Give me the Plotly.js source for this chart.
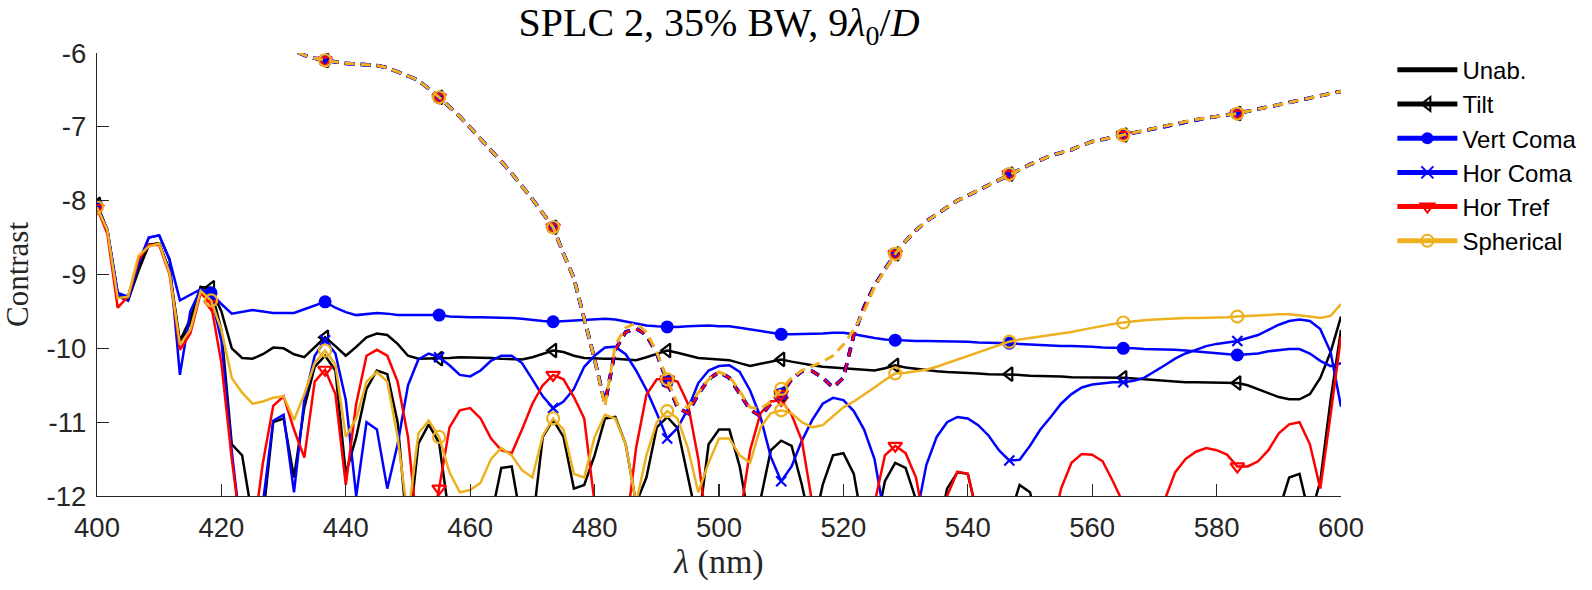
<!DOCTYPE html>
<html>
<head>
<meta charset="utf-8">
<script src="https://cdn.plot.ly/plotly-3.0.1.min.js"></script>
<style>
  html, body { margin: 0; padding: 0; background: #ffffff; }
  #chart { width: 1592px; height: 590px; }
</style>
</head>
<body>
<div id="chart"></div>
<script>
// Wavelength samples (nm)
const wavelength = [
  400, 401.67, 403.33, 405, 406.67, 408.33, 410, 411.67, 413.33, 415, 416.67,
  418.33, 420, 421.67, 423.33, 425, 426.67, 428.33, 430, 431.67, 433.33, 435,
  436.67, 438.33, 440, 441.67, 443.33, 445, 446.67, 448.33, 450, 451.67, 453.33,
  455, 456.67, 458.33, 460, 461.67, 463.33, 465, 466.67, 468.33, 470, 471.67,
  473.33, 475, 476.67, 478.33, 480, 481.67, 483.33, 485, 486.67, 488.33, 490,
  491.67, 493.33, 495, 496.67, 498.33, 500, 501.67, 503.33, 505, 506.67, 508.33,
  510, 511.67, 513.33, 515, 516.67, 518.33, 520, 521.67, 523.33, 525, 526.67,
  528.33, 530, 531.67, 533.33, 535, 536.67, 538.33, 540, 541.67, 543.33, 545,
  546.67, 548.33, 550, 551.67, 553.33, 555, 556.67, 558.33, 560, 561.67, 563.33,
  565, 566.67, 568.33, 570, 571.67, 573.33, 575, 576.67, 578.33, 580, 581.67,
  583.33, 585, 586.67, 588.33, 590, 591.67, 593.33, 595, 596.67, 598.33, 600
];

// log10 contrast, solid curves
const unab = [
  -8.05, -8.4, -9.3, -9.3, -8.9, -8.6, -8.58, -8.95, -9.9, -9.6, -9.17,
  -9.2, -9.75, -11.3, -11.45, -12.3, -12.3, -11.0, -10.95, -11.75, -10.8, -10.25,
  -10.1, -10.3, -11.7, -11.2, -10.55, -10.3, -10.35, -11.0, -12.6, -11.29, -11.03,
  -11.28, -12.3, -12.8, -12.8, -12.8, -12.3, -11.62, -11.6, -12.4, -12.4, -11.2,
  -10.97, -11.2, -11.9, -11.85, -11.45, -10.95, -10.93, -11.3, -12.1, -11.75, -11.07,
  -10.93, -11.08, -11.75, -12.4, -11.3, -11.1, -11.1, -11.6, -12.4, -12.05, -11.38,
  -11.25, -11.32, -11.85, -12.5, -11.85, -11.45, -11.42, -11.7, -12.5, -12.5, -11.8,
  -11.55, -11.62, -12.05, -12.6, -12.6, -11.9, -11.68, -11.7, -12.3, -12.8, -12.8,
  -12.3, -11.85, -11.95, -12.5, -13, -13, -13, -13, -13, -13, -13,
  -13, -13, -13, -13, -13, -13, -13, -13, -13, -13, -13,
  -13, -13, -13, -12.8, -12.2, -11.75, -11.7, -12.3, -11.8, -10.7, -9.75
];
const tilt = [
  -8.05, -8.4, -9.3, -9.35, -8.95, -8.6, -8.58, -8.95, -9.95, -9.65, -9.17,
  -9.18, -9.5, -10.0, -10.13, -10.14, -10.08, -9.99, -10.0, -10.08, -10.12, -9.98,
  -9.85, -9.97, -10.1, -9.98, -9.85, -9.8, -9.82, -9.94, -10.1, -10.14, -10.14,
  -10.14, -10.13, -10.12, -10.12, -10.12, -10.13, -10.14, -10.14, -10.15, -10.12, -10.07,
  -10.03, -10.05, -10.1, -10.13, -10.14, -10.14, -10.14, -10.15, -10.16, -10.12, -10.07,
  -10.03, -10.06, -10.1, -10.13, -10.14, -10.15, -10.16, -10.2, -10.24, -10.21, -10.18,
  -10.15, -10.18, -10.21, -10.23, -10.25, -10.26, -10.27, -10.29, -10.3, -10.3, -10.27,
  -10.23, -10.26, -10.28, -10.3, -10.31, -10.32, -10.33, -10.34, -10.34, -10.35, -10.35,
  -10.35, -10.36, -10.37, -10.37, -10.38, -10.38, -10.39, -10.39, -10.4, -10.4, -10.4,
  -10.4, -10.41, -10.42, -10.44, -10.45, -10.46, -10.46, -10.46, -10.46, -10.46, -10.46,
  -10.47, -10.5, -10.55, -10.6, -10.66, -10.69, -10.69, -10.62, -10.4, -10.05, -9.57
];
const vertComa = [
  -8.08, -8.4, -9.25, -9.3, -8.85, -8.5, -8.47, -8.8, -9.35, -9.28, -9.2,
  -9.25, -9.4, -9.53, -9.5, -9.48, -9.5, -9.52, -9.52, -9.52, -9.47, -9.42,
  -9.37, -9.45, -9.51, -9.55, -9.53, -9.52, -9.53, -9.55, -9.55, -9.55, -9.55,
  -9.55, -9.57, -9.58, -9.58, -9.58, -9.58, -9.58, -9.59, -9.6, -9.62, -9.63,
  -9.64, -9.63, -9.62, -9.61, -9.6, -9.6, -9.61, -9.64, -9.67, -9.69, -9.7,
  -9.71, -9.71, -9.7, -9.69, -9.69, -9.7, -9.7, -9.72, -9.74, -9.76, -9.79,
  -9.81, -9.81, -9.81, -9.81, -9.8, -9.79, -9.79, -9.81, -9.84, -9.86, -9.88,
  -9.89, -9.89, -9.9, -9.9, -9.9, -9.9, -9.91, -9.91, -9.92, -9.92, -9.93,
  -9.93, -9.94, -9.95, -9.95, -9.96, -9.97, -9.97, -9.98, -9.98, -9.99, -9.99,
  -10.0, -10.0, -10.01, -10.01, -10.02, -10.02, -10.03, -10.04, -10.05, -10.06, -10.07,
  -10.09, -10.08, -10.07, -10.04, -10.02, -10.01, -10.01, -10.07, -10.17, -10.24, -10.2
];
const horComa = [
  -8.08, -8.4, -9.25, -9.35, -8.85, -8.5, -8.47, -8.8, -10.36, -9.5, -9.2,
  -9.28, -9.9, -11.4, -12.6, -12.6, -12.1, -10.98, -10.9, -11.95, -10.7, -10.1,
  -9.89, -10.07, -10.7, -12.0, -11.0, -11.1, -11.9, -11.3, -10.5, -10.15, -10.07,
  -10.12, -10.23, -10.36, -10.38, -10.3, -10.17, -10.1, -10.1, -10.2, -10.42, -10.65,
  -10.81, -10.72, -10.55, -10.25, -10.1, -9.99, -9.98, -10.08, -10.3, -10.56, -10.88,
  -11.22, -11.08, -10.82, -10.47, -10.3, -10.24, -10.23, -10.32, -10.57, -10.93, -11.47,
  -11.8, -11.6, -11.25, -10.97, -10.75, -10.67, -10.7, -10.85, -11.1, -11.5, -12.3,
  -12.8, -12.8, -12.3, -11.58, -11.2, -11.0, -10.93, -10.95, -11.04, -11.18, -11.38,
  -11.52, -11.51, -11.32, -11.1, -10.93, -10.75, -10.62, -10.53, -10.49, -10.47, -10.46,
  -10.46, -10.44, -10.4, -10.32, -10.23, -10.14, -10.07, -10.02, -9.97, -9.94, -9.92,
  -9.9, -9.86, -9.82, -9.75, -9.68, -9.63, -9.61, -9.63, -9.74, -10.05, -10.79
];
const horTref = [
  -8.1, -8.45, -9.45, -9.3, -8.8, -8.6, -8.6, -9.0, -10.02, -9.8, -9.25,
  -9.4, -10.2, -11.5, -12.6, -12.6, -11.55, -10.78, -10.65, -11.1, -11.48, -10.45,
  -10.29, -10.62, -11.85, -10.75, -10.1, -10.02, -10.1, -10.45, -11.2, -12.6, -12.6,
  -11.9, -11.07, -10.84, -10.81, -10.95, -11.22, -11.38, -11.42, -11.1, -10.75, -10.5,
  -10.36, -10.42, -10.66, -10.95, -12.1, -12.8, -12.8, -12.5, -11.35, -10.63, -10.42,
  -10.42, -10.45, -10.75, -11.5, -12.6, -12.8, -12.8, -12.3, -11.38, -10.88, -10.72,
  -10.7, -10.9, -11.25, -12.1, -12.8, -12.8, -12.8, -12.8, -12.8, -12.1, -11.45,
  -11.32, -11.42, -11.75, -12.5, -12.5, -12.0, -11.67, -11.7, -12.3, -12.8, -12.8,
  -12.8, -12.8, -12.8, -12.8, -12.5, -11.9, -11.55, -11.43, -11.44, -11.53, -11.8,
  -12.1, -12.8, -12.8, -12.8, -12.05, -11.68, -11.5, -11.4, -11.35, -11.38, -11.44,
  -11.6, -11.6, -11.53, -11.38, -11.15, -11.03, -11.0, -11.3, -11.9, -10.9, -9.84
];
const spherical = [
  -8.09, -8.4, -9.32, -9.3, -8.75, -8.62, -8.58, -8.98, -9.95, -9.75, -9.22,
  -9.35, -9.75, -10.4, -10.6, -10.75, -10.72, -10.67, -10.65, -10.97, -10.62, -10.2,
  -10.03, -10.22, -11.2, -10.95, -10.45, -10.32, -10.45, -11.2, -12.3, -11.15, -10.98,
  -11.2, -11.68, -11.95, -11.92, -11.82, -11.5, -11.35, -11.45, -11.65, -11.75, -11.18,
  -10.95, -11.1, -11.7, -11.75, -11.2, -10.9, -10.95, -11.3, -12.1, -11.45, -11.0,
  -10.85, -10.95, -11.35, -11.95, -11.55, -11.22, -11.22, -11.45, -11.55, -11.07, -10.88,
  -10.84, -10.88, -11.0, -11.07, -11.04, -10.92, -10.8, -10.72, -10.63, -10.53, -10.43,
  -10.34, -10.33, -10.31, -10.29, -10.25, -10.2, -10.15, -10.1, -10.05, -10.0, -9.95,
  -9.91, -9.88, -9.86, -9.84, -9.82, -9.8, -9.78, -9.75, -9.72, -9.69, -9.67,
  -9.65, -9.63, -9.62, -9.61, -9.6, -9.6, -9.59, -9.59, -9.59, -9.58, -9.58,
  -9.57, -9.56, -9.55, -9.54, -9.54, -9.54, -9.55, -9.57, -9.59, -9.56, -9.4
];

// log10 contrast, dashed curves (above the axis top before ~432 nm)
const dashedCommon = [
  null, null, null, null, null, null, null, null, null, null, null,
  null, null, null, null, null, null, null, -5.9, -5.97, -6.03, -6.07,
  -6.1, -6.12, -6.14, -6.15, -6.16, -6.17, -6.2, -6.25, -6.31, -6.37, -6.48,
  -6.6, -6.73, -6.86, -7.01, -7.16, -7.32, -7.47, -7.63, -7.8, -7.98, -8.17,
  -8.36, -8.72, -9.05, -9.6, -10.15, -10.75, -10.02, -9.78, -9.73, -9.82, -10.07,
  -10.45, -10.8, -10.88, -10.62, -10.42, -10.32, -10.4, -10.62, -10.83, -10.92, -10.75,
  -10.62, -10.42, -10.31, -10.31, -10.4, -10.53, -10.4, -9.82, -9.44, -9.15, -8.93,
  -8.72, -8.55, -8.4, -8.28, -8.18, -8.09, -8.0, -7.93, -7.85, -7.78, -7.71,
  -7.64, -7.57, -7.51, -7.45, -7.39, -7.35, -7.31, -7.25, -7.2, -7.17, -7.14,
  -7.11, -7.08, -7.05, -7.02, -6.99, -6.96, -6.93, -6.9, -6.88, -6.86, -6.84,
  -6.82, -6.79, -6.76, -6.73, -6.7, -6.68, -6.65, -6.62, -6.59, -6.56, -6.52
];
const dashedSpherical = [
  null, null, null, null, null, null, null, null, null, null, null,
  null, null, null, null, null, null, null, -5.9, -5.97, -6.03, -6.07,
  -6.1, -6.12, -6.14, -6.15, -6.16, -6.17, -6.2, -6.25, -6.31, -6.37, -6.48,
  -6.6, -6.73, -6.86, -7.01, -7.16, -7.32, -7.47, -7.63, -7.8, -7.98, -8.17,
  -8.36, -8.72, -9.05, -9.6, -10.15, -10.78, -9.95, -9.72, -9.66, -9.78, -10.05,
  -10.42, -10.75, -10.8, -10.6, -10.42, -10.32, -10.38, -10.58, -10.8, -10.82, -10.72,
  -10.55, -10.4, -10.3, -10.24, -10.18, -10.1, -9.95, -9.75, -9.5, -9.17, -8.95,
  -8.72, -8.55, -8.4, -8.28, -8.18, -8.09, -8.0, -7.93, -7.85, -7.78, -7.71,
  -7.64, -7.57, -7.51, -7.45, -7.39, -7.35, -7.31, -7.25, -7.2, -7.17, -7.14,
  -7.11, -7.08, -7.05, -7.02, -6.99, -6.96, -6.93, -6.9, -6.88, -6.86, -6.84,
  -6.82, -6.79, -6.76, -6.73, -6.7, -6.68, -6.65, -6.62, -6.59, -6.56, -6.52
];

const xTicks = [400, 420, 440, 460, 480, 500, 520, 540, 560, 580, 600];
const yTicks = [-12, -11, -10, -9, -8, -7, -6];
const yTickText = ['-12', '-11', '-10', '-9', '-8', '-7', '-6'];

const BLACK = '#000000', BLUE = '#0000ff', RED = '#ff0000', ORANGE = '#edb120';
const MARKER_EVERY = 11;      // a marker on every 11th sample
const SPLIT = 49;             // dashed curves start a new dash run here

const series = [
  { name: 'Unab.',     y: unab,      dashed: dashedCommon,    color: BLACK,  symbol: null,                 size: 0,  dashW: 3.0 },
  { name: 'Tilt',      y: tilt,      dashed: dashedCommon,    color: BLACK,  symbol: 'triangle-left-open', size: 12, dashW: 3.0 },
  { name: 'Vert Coma', y: vertComa,  dashed: dashedCommon,    color: BLUE,   symbol: 'circle',             size: 13, dashW: 3.6 },
  { name: 'Hor Coma',  y: horComa,   dashed: dashedCommon,    color: BLUE,   symbol: 'x-thin-open',        size: 10, dashW: 3.6 },
  { name: 'Hor Tref',  y: horTref,   dashed: dashedCommon,    color: RED,    symbol: 'triangle-down-open', size: 12, dashW: 2.2 },
  { name: 'Spherical', y: spherical, dashed: dashedSpherical, color: ORANGE, symbol: 'circle-open',        size: 12, dashW: 3.0 }
];

function markerFor(s, start, end) {
  const filled = s.symbol === 'circle';
  const sizes = [];
  for (let k = start; k < end; k++) sizes.push(k % MARKER_EVERY === 0 ? s.size : 0);
  return {
    symbol: s.symbol,
    size: sizes,
    opacity: 1,
    color: s.color,
    line: { color: s.color, width: filled ? 0 : 2.2 }
  };
}

function makeTrace(s, xs, ys, start, line, extra) {
  const t = Object.assign({
    type: 'scatter', x: xs, y: ys,
    mode: s.symbol ? 'lines+markers' : 'lines',
    line: line,
    hoverinfo: 'skip'
  }, extra);
  if (s.symbol) t.marker = markerFor(s, start, start + xs.length);
  return t;
}

const traces = [];

// solid curves
series.forEach(s => {
  traces.push(makeTrace(s, wavelength, s.y, 0,
    { color: s.color, width: 2.5 },
    { name: s.name, showlegend: true }));
});

// dashed curves
series.forEach(s => {
  if (s.color === ORANGE) {
    traces.push(makeTrace(s, wavelength, s.dashed, 0,
      { color: s.color, width: s.dashW, dash: '10px,6px' },
      { showlegend: false }));
    return;
  }
  [[0, SPLIT + 1, '10px,6px'], [SPLIT, wavelength.length, '0px,7px,9px,0px']].forEach(([a, b, dash]) => {
    traces.push(makeTrace(s, wavelength.slice(a, b), s.dashed.slice(a, b), a,
      { color: s.color, width: s.dashW, dash: dash },
      { showlegend: false }));
  });
});

const AXIS_GREY = '#262626';
const layout = {
  width: 1592, height: 590,
  paper_bgcolor: '#ffffff', plot_bgcolor: '#ffffff',
  margin: { l: 97.3, r: 251.3, t: 52.7, b: 94.3, autoexpand: false },
  showlegend: true,
  title: {
    text: 'SPLC 2, 35% BW, 9<i>λ</i><sub>0</sub>/<i>D</i>',
    font: { family: 'Liberation Serif', size: 40, color: '#000000' },
    x: 0.5, xref: 'paper', xanchor: 'center',
    y: 0.962, yref: 'container', yanchor: 'middle'
  },
  xaxis: {
    range: [400, 600],
    tickmode: 'array', tickvals: xTicks,
    ticks: 'inside', ticklen: 12, tickwidth: 1.2, tickcolor: AXIS_GREY,
    showline: true, linecolor: AXIS_GREY, linewidth: 1.2,
    showgrid: false, zeroline: false,
    tickfont: { family: 'Liberation Sans', size: 27.5, color: AXIS_GREY },
    ticklabelstandoff: 7,
    title: { text: '<i>λ</i> (nm)', font: { family: 'Liberation Serif', size: 34, color: AXIS_GREY }, standoff: 4 },
    automargin: false
  },
  yaxis: {
    range: [-12, -6],
    tickmode: 'array', tickvals: yTicks, ticktext: yTickText,
    ticks: 'inside', ticklen: 12, tickwidth: 1.2, tickcolor: AXIS_GREY,
    showline: true, linecolor: AXIS_GREY, linewidth: 1.2,
    showgrid: false, zeroline: false,
    tickfont: { family: 'Liberation Sans', size: 27.5, color: AXIS_GREY },
    ticklabelstandoff: 4,
    title: { text: 'Contrast', font: { family: 'Liberation Serif', size: 31, color: AXIS_GREY }, standoff: 17 },
    automargin: false
  },
  legend: {
    x: 1.0413, xanchor: 'left', xref: 'paper',
    y: 1.012, yanchor: 'top', yref: 'paper',
    bgcolor: 'rgba(0,0,0,0)', borderwidth: 0,
    font: { family: 'Liberation Sans', size: 24, color: '#000000' },
    itemsizing: 'constant', itemwidth: 60, tracegroupgap: 0
  }
};

Plotly.newPlot('chart', traces, layout, { staticPlot: true, displayModeBar: false });
</script>
</body>
</html>
